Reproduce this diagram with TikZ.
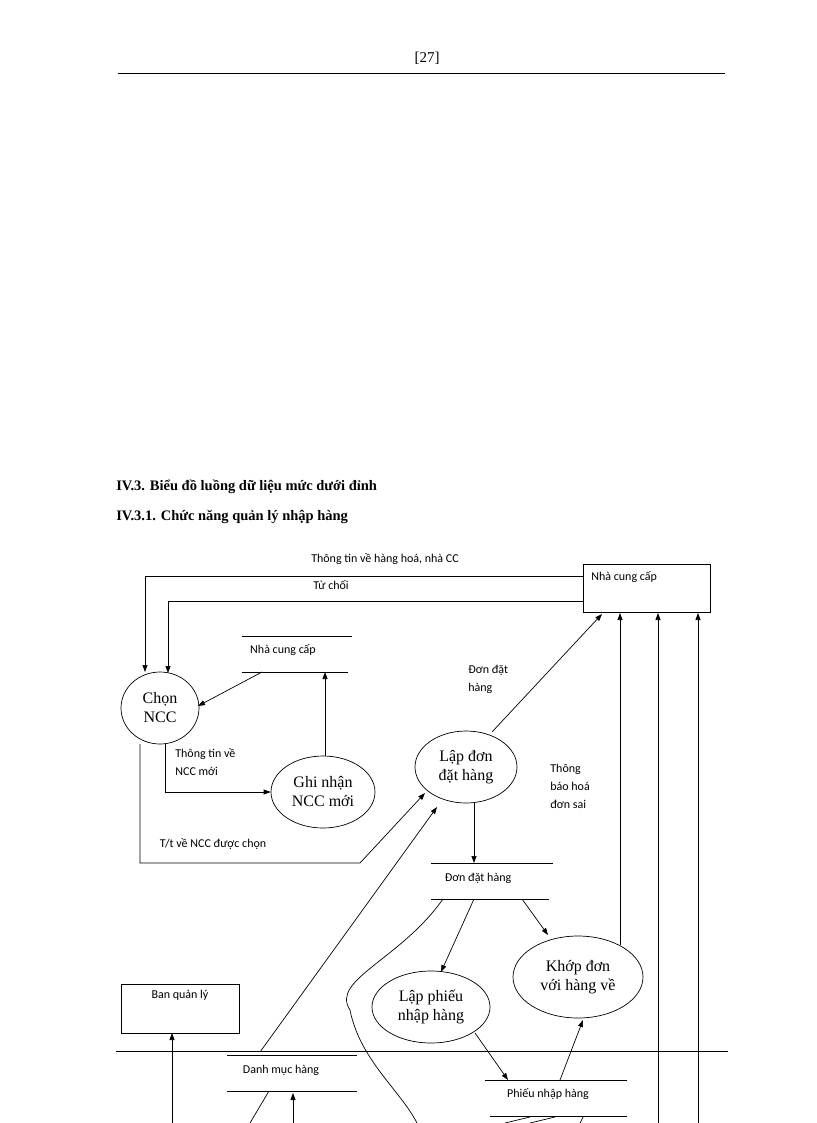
\documentclass[tikz,border=0pt]{standalone}
\usepackage{fontspec}
\setmainfont{Liberation Serif}
\newfontfamily\lab{Carlito}
\usetikzlibrary{shapes.geometric,arrows.meta}
\begin{document}
\begin{tikzpicture}[x=1pt,y=-1pt,line width=0.7pt,
  arr/.style={-{Triangle[length=7pt,width=5pt]}},
  lbl/.style={font=\lab\fontsize{12}{14}\selectfont,inner sep=0pt},
  proc/.style={draw,ellipse,minimum width=2*#1,minimum height=72pt,inner sep=0pt,align=center,font=\fontsize{16}{19}\selectfont},
  ent/.style={draw,inner sep=0pt}]
\useasboundingbox (0,0) rectangle (816,1123);
\node[font=\fontsize{15}{18}\selectfont] (pg) at (427,58) {[27]};
\draw (118,73) -- (725,73);
\node[anchor=west,font=\bfseries\fontsize{14.5}{17}\selectfont,inner sep=0pt] (h1) at (116,487) {IV.3. Biểu đồ luồng dữ liệu mức dưới đỉnh};
\node[anchor=west,font=\bfseries\fontsize{14.5}{17}\selectfont,inner sep=0pt] (h2) at (116,517) {IV.3.1. Chức năng quản lý nhập hàng};
% entities
\node[ent,minimum width=127pt,minimum height=48pt] (ncc) at (646.5,588) {};
\node[lbl,anchor=north west] (ncct) at (591,571) {Nhà cung cấp};
\node[ent,minimum width=118pt,minimum height=49pt] (bql) at (180,1008.5) {};
\node[lbl,anchor=north] (bqlt) at (180,990) {Ban quản lý};
% processes
\node[proc=39pt] (chon) at (160,708) {Chọn\\NCC};
\node[proc=52pt] (ghi) at (323,792) {Ghi nhận\\NCC mới};
\node[proc=51pt] (lap) at (466,767) {Lập đơn\\đặt hàng};
\node[proc=65pt,minimum height=82pt] (khop) at (578,977) {Khớp đơn\\với hàng về};
\node[proc=59pt] (lpn) at (431,1007) {Lập phiếu\\nhập hàng};
% stores
\draw (242,636) -- (352,636); \draw (242,672) -- (348,672);
\node[lbl] (s1) at (283,650) {Nhà cung cấp};
\draw (431,863) -- (553,863); \draw (431,899) -- (549,899);
\node[lbl] (s2) at (478,878) {Đơn đặt hàng};
\draw (227,1055) -- (357,1055); \draw (227,1091) -- (357,1091);
\node[lbl] (s3) at (281,1070) {Danh mục hàng};
\draw (485,1080) -- (627,1080); \draw (490,1116) -- (627,1116);
\node[lbl] (s4) at (548,1094) {Phiếu nhập hàng};
\draw (116,1051) -- (728,1051);
\coordinate (b1) at (262,672); \coordinate (b2) at (325,672);
% flows
\draw[arr] (ncc.west |- 0,576) -- (145,576) -- (145,672);
\node[lbl] (l1) at (385,559) {Thông tin về hàng hoá, nhà CC};
\draw[arr] (ncc.west |- 0,601) -- (168,601) -- (168,673);
\node[lbl] (l2) at (331,585) {Từ chối};
\draw[arr] (b1) -- (198,706);
\draw[arr] (ghi.north -| b2) -- (b2);
\draw[arr] (165,744) -- (165,792) -- (ghi.west);
\node[lbl,anchor=west,align=left] (l3) at (175,762) {Thông tin về\\[4pt]NCC mới};
\draw[arr] (140,744) -- (140,863) -- (360,863) -- (425,793);
\node[lbl] (l4) at (213,844) {T/t về NCC được chọn};
\draw[arr] (492,732) -- (602,614);
\node[lbl,anchor=west,align=left] (l5) at (468,679) {Đơn đặt\\[4pt]hàng};
\node[lbl,anchor=west,align=left] (l6) at (550,786) {Thông\\[4pt]báo hoá\\[4pt]đơn sai};
\draw[arr] (474,803) -- (474,863);
\draw[arr] (620,945) -- (620,613);
\draw[arr] (658,1123) -- (658,613);
\draw[arr] (698,1123) -- (698,613);
\draw[arr] (474,899) -- (441,972);
\draw[arr] (522,899) -- (548,935);
\draw (443,899) .. controls (400,960) and (330,980) .. (350,1010) .. controls (360,1060) and (400,1090) .. (417,1123);
\draw[arr] (475,1033) -- (508,1080);
\draw[arr] (560,1080) -- (583,1020);
\draw[arr] (260,1052) -- (437,807);
\draw (269,1091) -- (250,1123);
\draw[arr] (293,1123) -- (293,1093);
\draw[arr] (172,1123) -- (172,1033);
\draw (530,1117) -- (505,1123); \draw (555,1117) -- (530,1123); \draw (583,1117) -- (580,1123);
\end{tikzpicture}
\end{document}
